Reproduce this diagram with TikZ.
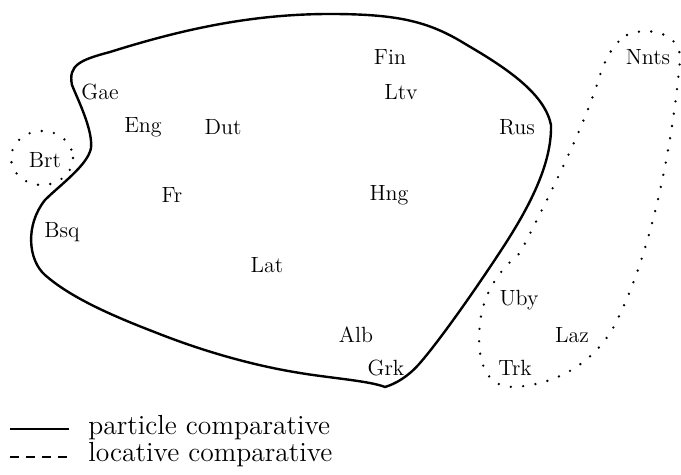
\documentclass[tikz,border=0pt]{standalone}
\begin{document}
\begin{tikzpicture}[x=0.5pt,y=-0.5pt,
  lang/.style={font=\fontsize{11}{13}\selectfont, inner sep=0pt},
  legendtext/.style={font=\fontsize{13.8}{16}\selectfont, anchor=west, inner sep=0pt},
  particle/.style={line width=1.2pt, line join=round},
  locative/.style={line width=1.3pt, line cap=round, dash pattern=on 0pt off 6.2pt},
  legendsolid/.style={line width=1pt},
  legenddash/.style={line width=1pt, dash pattern=on 4.5pt off 3.5pt}]
\useasboundingbox (0,0) rectangle (681,475);

% language labels
\node[lang] (fin)  at (390,57)  {Fin};
\node[lang] (ltv)  at (401,92)  {Ltv};
\node[lang] (gae)  at (100,92)  {Gae};
\node[lang] (eng)  at (143,127) {Eng};
\node[lang] (dut)  at (223,127) {Dut};
\node[lang] (rus)  at (517,127) {Rus};
\node[lang] (nnts) at (648,57)  {Nnts};
\node[lang] (brt)  at (45,160)  {Brt};
\node[lang] (fr)   at (172,195) {Fr};
\node[lang] (hng)  at (389,195) {Hng};
\node[lang] (bsq)  at (62,232)  {Bsq};
\node[lang] (lat)  at (267,265) {Lat};
\node[lang] (uby)  at (519,300) {Uby};
\node[lang] (alb)  at (356,335) {Alb};
\node[lang] (laz)  at (572,335) {Laz};
\node[lang] (grk)  at (386,368) {Grk};
\node[lang] (trk)  at (515,368) {Trk};

% particle comparative area
\draw[particle] (72,85)
  .. controls (68,65) and (80,60) .. (110,52)
  .. controls (180,30) and (250,14) .. (330,14)
  .. controls (400,14) and (430,22) .. (467,45)
  .. controls (510,70) and (545,95) .. (551,125)
  .. controls (552,165) and (528,210) .. (498,255)
  .. controls (475,290) and (440,340) .. (420,363)
  .. controls (408,377) and (395,384) .. (385,387)
  .. controls (370,381) and (330,378) .. (300,373)
  .. controls (250,365) and (200,350) .. (157,333)
  .. controls (110,315) and (70,297) .. (45,275)
  .. controls (28,260) and (25,225) .. (45,200)
  .. controls (60,185) and (88,165) .. (91,148)
  .. controls (93,130) and (78,100) .. (72,85) -- cycle;

% locative comparative areas
\draw[locative] (42,158) ellipse [x radius=31, y radius=27];
\draw[locative] (627,35)
  .. controls (650,25) and (682,35) .. (680,60)
  .. controls (672,150) and (650,260) .. (612,330)
  .. controls (590,365) and (555,385) .. (513,387)
  .. controls (485,387) and (476,360) .. (480,323)
  .. controls (483,295) and (497,272) .. (520,253)
  .. controls (550,195) and (585,125) .. (600,75)
  .. controls (607,55) and (615,42) .. (627,35) -- cycle;

% legend
\coordinate (solidL) at (10,429);
\coordinate (solidR) at (69,429);
\coordinate (dashL)  at (10,457);
\coordinate (dashR)  at (69,457);
\draw[legendsolid] (solidL) -- (solidR);
\draw[legenddash] (dashL) -- (dashR);
\node[legendtext] (lpart) at (88,428) {particle comparative};
\node[legendtext] (lloc)  at (88,455) {locative comparative};
\end{tikzpicture}
\end{document}
